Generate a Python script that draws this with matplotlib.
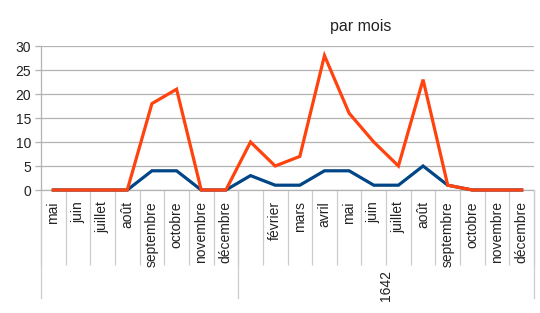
import matplotlib
matplotlib.use("Agg")
import matplotlib.pyplot as plt
from matplotlib.transforms import blended_transform_factory

plt.rcParams['font.family'] = ['Liberation Sans', 'DejaVu Sans']

months = ["mai", "juin", "juillet", "août", "septembre", "octobre", "novembre", "décembre",
          "", "février", "mars", "avril", "mai", "juin", "juillet", "août",
          "septembre", "octobre", "novembre", "décembre"]
years = ["", "1642"]
year_sizes = [8, 12]
series_orange = [0, 0, 0, 0, 18, 21, 0, 0, 10, 5, 7, 28, 16, 10, 5, 23, 1, 0, 0, 0]
series_blue = [0, 0, 0, 0, 4, 4, 0, 0, 3, 1, 1, 4, 4, 1, 1, 5, 1, 0, 0, 0]
title = "par mois"

W, H = 540, 313
fig = plt.figure(figsize=(W / 100, H / 100), dpi=100)
ax_l, ax_r, ax_t, ax_b = 41, 534, 46, 190
ax = fig.add_axes([ax_l / W, 1 - ax_b / H, (ax_r - ax_l) / W, (ax_b - ax_t) / H])

n = len(months)
x = list(range(n))
ax.plot(x, series_blue, color="#004586", lw=2.3, solid_joinstyle="miter", zorder=3, clip_on=False)
ax.plot(x, series_orange, color="#ff420e", lw=2.3, solid_joinstyle="miter", zorder=4, clip_on=False)

ax.set_xlim(-0.5, n - 0.5)
ax.set_ylim(0, 30)
ax.set_yticks(range(0, 31, 5))
grid_c = "#b3b3b3"
ax.yaxis.grid(True, color=grid_c, lw=0.9)
ax.set_axisbelow(True)
for s in ["top", "right", "bottom"]:
    ax.spines[s].set_visible(False)
ax.spines["left"].set_color(grid_c)
ax.spines["left"].set_linewidth(0.9)
ax.tick_params(axis="y", length=4, color=grid_c, width=0.9, pad=3, labelsize=10, labelcolor="#222222")

ax.set_xticks(x)
ax.set_xticklabels(months, rotation=90, fontsize=10, va="top", ha="center", color="#222222")
ax.tick_params(axis="x", which="major", length=0, pad=8)
ax.set_xticks([i - 0.5 for i in range(n + 1)], minor=True)
ax.tick_params(axis="x", which="minor", length=54, color="#cccccc", width=0.9, direction="out")

tr = blended_transform_factory(ax.transData, ax.transAxes)
start = 0
ax.plot([-0.5, n - 0.5], [0, 0], transform=tr, color=grid_c, lw=0.9, clip_on=False, zorder=2)
bounds = [-0.5]
for ysz in year_sizes:
    start += ysz
    bounds.append(start - 0.5)
for b in bounds:
    ax.plot([b, b], [0, -0.75], transform=tr, color="#cccccc", lw=0.9, clip_on=False)
s = 0
for lab, ysz in zip(years, year_sizes):
    c = s + (ysz - 1) / 2
    ax.text(c, -0.66, lab, transform=tr, rotation=90, ha="center", va="center",
            fontsize=10, color="#222222")
    s += ysz

fig.text(361 / W, 1 - 26 / H, title, ha="center", va="center", fontsize=11.5, color="#222222")

fig.savefig("out.png", dpi=100)
